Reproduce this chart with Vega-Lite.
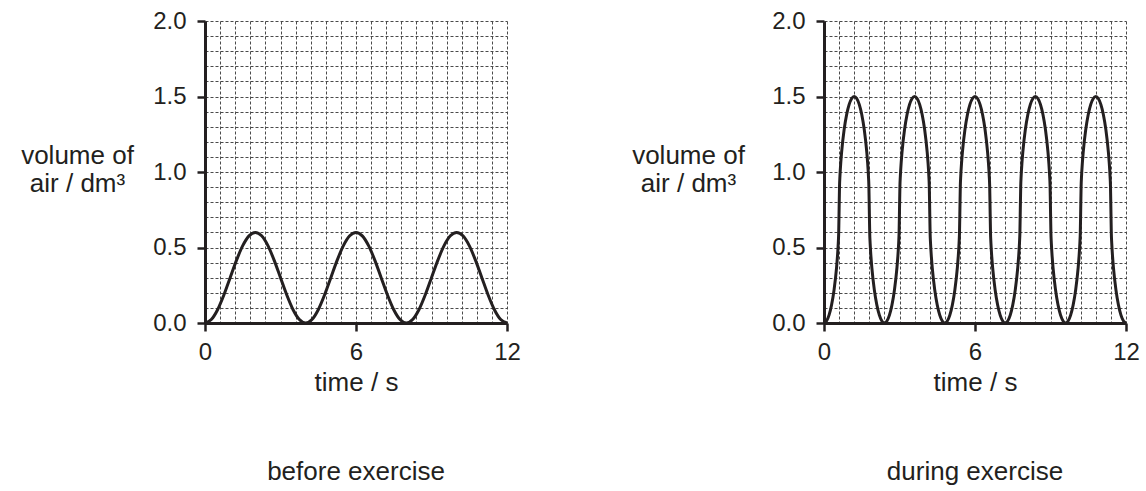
{
  "$schema": "https://vega.github.io/schema/vega-lite/v6.json",
  "background": "white",
  "padding": {"left": 20, "top": 9, "right": 5, "bottom": 5},
  "config": {
    "font": "Liberation Sans",
    "view": {"stroke": null},
    "axis": {
      "grid": true,
      "gridColor": "#4a4a4a",
      "gridDash": [3, 2],
      "gridWidth": 1,
      "domainColor": "#231f20",
      "domainWidth": 3,
      "tickColor": "#231f20",
      "tickWidth": 2.5,
      "tickSize": 8,
      "labelFontSize": 24,
      "labelColor": "#231f20",
      "labelFlush": false,
      "labelOverlap": false,
      "titleFontSize": 26,
      "titleFontWeight": "normal",
      "titleColor": "#231f20"
    },
    "title": {"fontSize": 26, "fontWeight": "normal", "color": "#231f20"}
  },
  "datasets": {
    "before": [
      {"t": 0, "v": 0}, {"t": 0.25, "v": 0.0228}, {"t": 0.5, "v": 0.0879}, {"t": 0.75, "v": 0.1852}, {"t": 1, "v": 0.3}, {"t": 1.25, "v": 0.4148}, {"t": 1.5, "v": 0.5121}, {"t": 1.75, "v": 0.5772}, {"t": 2, "v": 0.6}, {"t": 2.25, "v": 0.5772}, {"t": 2.5, "v": 0.5121}, {"t": 2.75, "v": 0.4148}, {"t": 3, "v": 0.3}, {"t": 3.25, "v": 0.1852}, {"t": 3.5, "v": 0.0879}, {"t": 3.75, "v": 0.0228},
      {"t": 4, "v": 0}, {"t": 4.25, "v": 0.0228}, {"t": 4.5, "v": 0.0879}, {"t": 4.75, "v": 0.1852}, {"t": 5, "v": 0.3}, {"t": 5.25, "v": 0.4148}, {"t": 5.5, "v": 0.5121}, {"t": 5.75, "v": 0.5772}, {"t": 6, "v": 0.6}, {"t": 6.25, "v": 0.5772}, {"t": 6.5, "v": 0.5121}, {"t": 6.75, "v": 0.4148}, {"t": 7, "v": 0.3}, {"t": 7.25, "v": 0.1852}, {"t": 7.5, "v": 0.0879}, {"t": 7.75, "v": 0.0228},
      {"t": 8, "v": 0}, {"t": 8.25, "v": 0.0228}, {"t": 8.5, "v": 0.0879}, {"t": 8.75, "v": 0.1852}, {"t": 9, "v": 0.3}, {"t": 9.25, "v": 0.4148}, {"t": 9.5, "v": 0.5121}, {"t": 9.75, "v": 0.5772}, {"t": 10, "v": 0.6}, {"t": 10.25, "v": 0.5772}, {"t": 10.5, "v": 0.5121}, {"t": 10.75, "v": 0.4148}, {"t": 11, "v": 0.3}, {"t": 11.25, "v": 0.1852}, {"t": 11.5, "v": 0.0879}, {"t": 11.75, "v": 0.0228},
      {"t": 12, "v": 0}
    ],
    "during": [
      {"t": 0, "v": 0}, {"t": 0.1, "v": 0.0129}, {"t": 0.2, "v": 0.0521}, {"t": 0.3, "v": 0.1193}, {"t": 0.4, "v": 0.2197}, {"t": 0.5, "v": 0.3685}, {"t": 0.5333, "v": 0.4375}, {"t": 0.5667, "v": 0.5285}, {"t": 0.5833, "v": 0.5933}, {"t": 0.6, "v": 0.75}, {"t": 0.6167, "v": 0.9067}, {"t": 0.6333, "v": 0.9715}, {"t": 0.6667, "v": 1.0625}, {"t": 0.7, "v": 1.1315}, {"t": 0.8, "v": 1.2803}, {"t": 0.9, "v": 1.3807}, {"t": 1.0, "v": 1.4479}, {"t": 1.1, "v": 1.4871}, {"t": 1.2, "v": 1.5}, {"t": 1.3, "v": 1.4871}, {"t": 1.4, "v": 1.4479}, {"t": 1.5, "v": 1.3807}, {"t": 1.6, "v": 1.2803}, {"t": 1.7, "v": 1.1315}, {"t": 1.7333, "v": 1.0625}, {"t": 1.7667, "v": 0.9715}, {"t": 1.7833, "v": 0.9067}, {"t": 1.8, "v": 0.75}, {"t": 1.8167, "v": 0.5933}, {"t": 1.8333, "v": 0.5285}, {"t": 1.8667, "v": 0.4375}, {"t": 1.9, "v": 0.3685}, {"t": 2.0, "v": 0.2197}, {"t": 2.1, "v": 0.1193}, {"t": 2.2, "v": 0.0521}, {"t": 2.3, "v": 0.0129},
      {"t": 2.4, "v": 0}, {"t": 2.5, "v": 0.0129}, {"t": 2.6, "v": 0.0521}, {"t": 2.7, "v": 0.1193}, {"t": 2.8, "v": 0.2197}, {"t": 2.9, "v": 0.3685}, {"t": 2.9333, "v": 0.4375}, {"t": 2.9667, "v": 0.5285}, {"t": 2.9833, "v": 0.5933}, {"t": 3.0, "v": 0.75}, {"t": 3.0167, "v": 0.9067}, {"t": 3.0333, "v": 0.9715}, {"t": 3.0667, "v": 1.0625}, {"t": 3.1, "v": 1.1315}, {"t": 3.2, "v": 1.2803}, {"t": 3.3, "v": 1.3807}, {"t": 3.4, "v": 1.4479}, {"t": 3.5, "v": 1.4871}, {"t": 3.6, "v": 1.5}, {"t": 3.7, "v": 1.4871}, {"t": 3.8, "v": 1.4479}, {"t": 3.9, "v": 1.3807}, {"t": 4.0, "v": 1.2803}, {"t": 4.1, "v": 1.1315}, {"t": 4.1333, "v": 1.0625}, {"t": 4.1667, "v": 0.9715}, {"t": 4.1833, "v": 0.9067}, {"t": 4.2, "v": 0.75}, {"t": 4.2167, "v": 0.5933}, {"t": 4.2333, "v": 0.5285}, {"t": 4.2667, "v": 0.4375}, {"t": 4.3, "v": 0.3685}, {"t": 4.4, "v": 0.2197}, {"t": 4.5, "v": 0.1193}, {"t": 4.6, "v": 0.0521}, {"t": 4.7, "v": 0.0129},
      {"t": 4.8, "v": 0}, {"t": 4.9, "v": 0.0129}, {"t": 5.0, "v": 0.0521}, {"t": 5.1, "v": 0.1193}, {"t": 5.2, "v": 0.2197}, {"t": 5.3, "v": 0.3685}, {"t": 5.3333, "v": 0.4375}, {"t": 5.3667, "v": 0.5285}, {"t": 5.3833, "v": 0.5933}, {"t": 5.4, "v": 0.75}, {"t": 5.4167, "v": 0.9067}, {"t": 5.4333, "v": 0.9715}, {"t": 5.4667, "v": 1.0625}, {"t": 5.5, "v": 1.1315}, {"t": 5.6, "v": 1.2803}, {"t": 5.7, "v": 1.3807}, {"t": 5.8, "v": 1.4479}, {"t": 5.9, "v": 1.4871}, {"t": 6.0, "v": 1.5}, {"t": 6.1, "v": 1.4871}, {"t": 6.2, "v": 1.4479}, {"t": 6.3, "v": 1.3807}, {"t": 6.4, "v": 1.2803}, {"t": 6.5, "v": 1.1315}, {"t": 6.5333, "v": 1.0625}, {"t": 6.5667, "v": 0.9715}, {"t": 6.5833, "v": 0.9067}, {"t": 6.6, "v": 0.75}, {"t": 6.6167, "v": 0.5933}, {"t": 6.6333, "v": 0.5285}, {"t": 6.6667, "v": 0.4375}, {"t": 6.7, "v": 0.3685}, {"t": 6.8, "v": 0.2197}, {"t": 6.9, "v": 0.1193}, {"t": 7.0, "v": 0.0521}, {"t": 7.1, "v": 0.0129},
      {"t": 7.2, "v": 0}, {"t": 7.3, "v": 0.0129}, {"t": 7.4, "v": 0.0521}, {"t": 7.5, "v": 0.1193}, {"t": 7.6, "v": 0.2197}, {"t": 7.7, "v": 0.3685}, {"t": 7.7333, "v": 0.4375}, {"t": 7.7667, "v": 0.5285}, {"t": 7.7833, "v": 0.5933}, {"t": 7.8, "v": 0.75}, {"t": 7.8167, "v": 0.9067}, {"t": 7.8333, "v": 0.9715}, {"t": 7.8667, "v": 1.0625}, {"t": 7.9, "v": 1.1315}, {"t": 8.0, "v": 1.2803}, {"t": 8.1, "v": 1.3807}, {"t": 8.2, "v": 1.4479}, {"t": 8.3, "v": 1.4871}, {"t": 8.4, "v": 1.5}, {"t": 8.5, "v": 1.4871}, {"t": 8.6, "v": 1.4479}, {"t": 8.7, "v": 1.3807}, {"t": 8.8, "v": 1.2803}, {"t": 8.9, "v": 1.1315}, {"t": 8.9333, "v": 1.0625}, {"t": 8.9667, "v": 0.9715}, {"t": 8.9833, "v": 0.9067}, {"t": 9.0, "v": 0.75}, {"t": 9.0167, "v": 0.5933}, {"t": 9.0333, "v": 0.5285}, {"t": 9.0667, "v": 0.4375}, {"t": 9.1, "v": 0.3685}, {"t": 9.2, "v": 0.2197}, {"t": 9.3, "v": 0.1193}, {"t": 9.4, "v": 0.0521}, {"t": 9.5, "v": 0.0129},
      {"t": 9.6, "v": 0}, {"t": 9.7, "v": 0.0129}, {"t": 9.8, "v": 0.0521}, {"t": 9.9, "v": 0.1193}, {"t": 10.0, "v": 0.2197}, {"t": 10.1, "v": 0.3685}, {"t": 10.1333, "v": 0.4375}, {"t": 10.1667, "v": 0.5285}, {"t": 10.1833, "v": 0.5933}, {"t": 10.2, "v": 0.75}, {"t": 10.2167, "v": 0.9067}, {"t": 10.2333, "v": 0.9715}, {"t": 10.2667, "v": 1.0625}, {"t": 10.3, "v": 1.1315}, {"t": 10.4, "v": 1.2803}, {"t": 10.5, "v": 1.3807}, {"t": 10.6, "v": 1.4479}, {"t": 10.7, "v": 1.4871}, {"t": 10.8, "v": 1.5}, {"t": 10.9, "v": 1.4871}, {"t": 11.0, "v": 1.4479}, {"t": 11.1, "v": 1.3807}, {"t": 11.2, "v": 1.2803}, {"t": 11.3, "v": 1.1315}, {"t": 11.3333, "v": 1.0625}, {"t": 11.3667, "v": 0.9715}, {"t": 11.3833, "v": 0.9067}, {"t": 11.4, "v": 0.75}, {"t": 11.4167, "v": 0.5933}, {"t": 11.4333, "v": 0.5285}, {"t": 11.4667, "v": 0.4375}, {"t": 11.5, "v": 0.3685}, {"t": 11.6, "v": 0.2197}, {"t": 11.7, "v": 0.1193}, {"t": 11.8, "v": 0.0521}, {"t": 11.9, "v": 0.0129},
      {"t": 12.0, "v": 0}
    ]
  },
  "bounds": "flush",
  "spacing": 317,
  "hconcat": [
    {
      "width": 302,
      "height": 302,
      "title": {"text": "before exercise", "orient": "bottom", "offset": 64, "anchor": "middle"},
      "data": {"name": "before"},
      "mark": {"type": "line", "interpolate": "monotone", "stroke": "#231f20", "strokeWidth": 3},
      "encoding": {
        "x": {
          "field": "t", "type": "quantitative",
          "scale": {"domain": [0, 12], "nice": false, "zero": false},
          "axis": {
            "title": "time / s",
            "titlePadding": 5,
            "labelPadding": 9,
            "values": [0, 0.6, 1.2, 1.8, 2.4, 3, 3.6, 4.2, 4.8, 5.4, 6, 6.6, 7.2, 7.8, 8.4, 9, 9.6, 10.2, 10.8, 11.4, 12],
            "labelExpr": "abs(datum.value/6 - round(datum.value/6)) < 1e-6 ? format(datum.value, 'd') : ''",
            "tickOpacity": {"condition": {"test": "abs(datum.value/6 - round(datum.value/6)) < 1e-6", "value": 1}, "value": 0}
          }
        },
        "y": {
          "field": "v", "type": "quantitative",
          "scale": {"domain": [0, 2], "nice": false, "zero": false},
          "axis": {
            "title": ["volume of", "air / dm³"],
            "titleAngle": 0,
            "titleAlign": "center",
            "titleBaseline": "middle",
            "titleX": -128,
            "titleY": 134,
            "titleLineHeight": 28,
            "labelPadding": 11,
            "values": [0, 0.1, 0.2, 0.3, 0.4, 0.5, 0.6, 0.7, 0.8, 0.9, 1, 1.1, 1.2, 1.3, 1.4, 1.5, 1.6, 1.7, 1.8, 1.9, 2],
            "labelExpr": "abs(datum.value*2 - round(datum.value*2)) < 1e-6 ? format(datum.value, '.1f') : ''",
            "tickOpacity": {"condition": {"test": "abs(datum.value*2 - round(datum.value*2)) < 1e-6", "value": 1}, "value": 0}
          }
        }
      }
    },
    {
      "width": 302,
      "height": 302,
      "title": {"text": "during exercise", "orient": "bottom", "offset": 64, "anchor": "middle"},
      "data": {"name": "during"},
      "mark": {"type": "line", "interpolate": "monotone", "stroke": "#231f20", "strokeWidth": 3},
      "encoding": {
        "x": {
          "field": "t", "type": "quantitative",
          "scale": {"domain": [0, 12], "nice": false, "zero": false},
          "axis": {
            "title": "time / s",
            "titlePadding": 5,
            "labelPadding": 9,
            "values": [0, 0.6, 1.2, 1.8, 2.4, 3, 3.6, 4.2, 4.8, 5.4, 6, 6.6, 7.2, 7.8, 8.4, 9, 9.6, 10.2, 10.8, 11.4, 12],
            "labelExpr": "abs(datum.value/6 - round(datum.value/6)) < 1e-6 ? format(datum.value, 'd') : ''",
            "tickOpacity": {"condition": {"test": "abs(datum.value/6 - round(datum.value/6)) < 1e-6", "value": 1}, "value": 0}
          }
        },
        "y": {
          "field": "v", "type": "quantitative",
          "scale": {"domain": [0, 2], "nice": false, "zero": false},
          "axis": {
            "title": ["volume of", "air / dm³"],
            "titleAngle": 0,
            "titleAlign": "center",
            "titleBaseline": "middle",
            "titleX": -136,
            "titleY": 134,
            "titleLineHeight": 28,
            "labelPadding": 11,
            "values": [0, 0.1, 0.2, 0.3, 0.4, 0.5, 0.6, 0.7, 0.8, 0.9, 1, 1.1, 1.2, 1.3, 1.4, 1.5, 1.6, 1.7, 1.8, 1.9, 2],
            "labelExpr": "abs(datum.value*2 - round(datum.value*2)) < 1e-6 ? format(datum.value, '.1f') : ''",
            "tickOpacity": {"condition": {"test": "abs(datum.value*2 - round(datum.value*2)) < 1e-6", "value": 1}, "value": 0}
          }
        }
      }
    }
  ]
}
